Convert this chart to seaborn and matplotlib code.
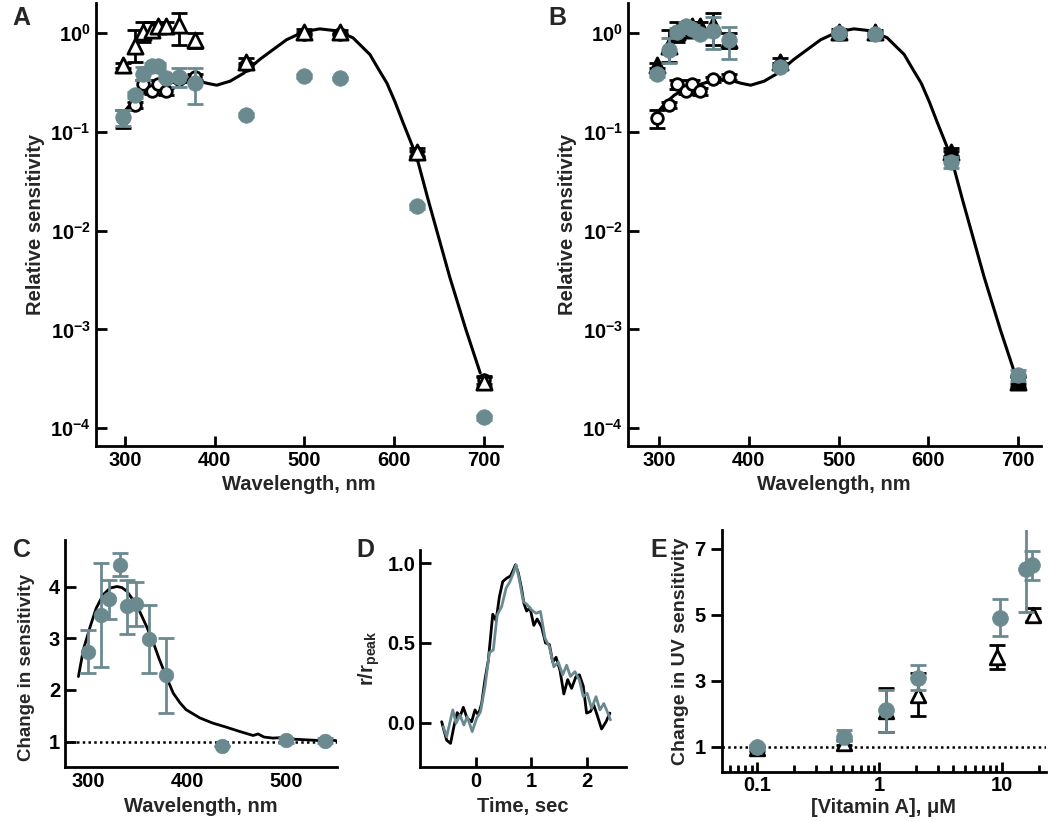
import numpy as np
import matplotlib
matplotlib.use("Agg")
import matplotlib.pyplot as plt
import matplotlib.ticker as mticker
import seaborn as sns

sns.set_theme(style="ticks")
plt.rcParams.update({
    "font.family": ["Liberation Sans", "DejaVu Sans"],
    "font.weight": "bold",
    "font.size": 14,
    "axes.labelweight": "bold",
    "axes.labelsize": 14.5,
    "axes.linewidth": 2.0,
    "axes.edgecolor": "black",
    "xtick.labelsize": 14.5,
    "ytick.labelsize": 14.5,
    "xtick.color": "black",
    "ytick.color": "black",
    "xtick.major.width": 2.0,
    "ytick.major.width": 2.0,
    "xtick.major.size": 7,
    "ytick.major.size": 8,
    "xtick.direction": "in",
    "ytick.direction": "in",
    "mathtext.fontset": "custom",
    "mathtext.rm": "Liberation Sans:bold",
    "mathtext.it": "Liberation Sans:bold",
    "mathtext.bf": "Liberation Sans:bold",
    "mathtext.sf": "Liberation Sans:bold",
})

GRAY = "#6a8a90"

# ---- panels A / B : spectral sensitivity ----
wl = [298, 311, 320, 330, 337, 346, 360, 378, 435, 500, 540, 625, 700]

# template fit (black curve)
fit_wl = [298, 307, 317, 328, 346, 365, 380, 391, 402, 417, 432, 450, 462, 480,
          499, 517, 536, 554, 573, 582, 592, 601, 610, 625, 638, 650, 662, 680, 696]
fit_sens = [0.155, 0.195, 0.234, 0.269, 0.302, 0.339, 0.331, 0.309, 0.295, 0.324,
            0.389, 0.537, 0.646, 0.851, 1.023, 1.096, 1.047, 0.891, 0.603, 0.437,
            0.309, 0.200, 0.123, 0.0562, 0.0204, 0.00832, 0.00339, 0.00100, 0.000363]

# open circles (control)
ctrl = [0.137, 0.187, 0.30, 0.26, 0.30, 0.255, 0.34, 0.356, 0.47, 0.98, 0.97, 0.060, 0.00031]
ctrl_lo = [0.109, 0.175, 0.27, 0.24, 0.27, 0.235, 0.32, 0.33, 0.45, 0.95, 0.95, 0.057, 0.00028]
ctrl_hi = [0.166, 0.200, 0.33, 0.29, 0.33, 0.275, 0.36, 0.38, 0.49, 1.01, 0.99, 0.064, 0.00034]

# triangles
tri = [0.47, 0.73, 1.03, 1.07, 1.16, 1.17, 1.20, 0.85, 0.51, 1.03, 1.03, 0.062, 0.00029]
tri_lo = [0.44, 0.51, 0.80, 0.90, 1.00, 1.00, 0.76, 0.70, 0.47, 0.98, 0.98, 0.056, 0.00026]
tri_hi = [0.50, 1.07, 1.30, 1.30, 1.30, 1.30, 1.58, 1.00, 0.55, 1.08, 1.06, 0.068, 0.00033]

# gray circles, panel A
grayA = [0.14, 0.235, 0.38, 0.46, 0.46, 0.35, 0.36, 0.31, 0.148, 0.367, 0.345, 0.0175, 0.000129]
grayA_lo = [0.115, 0.22, 0.33, 0.43, 0.43, 0.33, 0.28, 0.19, 0.14, 0.35, 0.33, 0.0165, 0.000121]
grayA_hi = [0.165, 0.25, 0.45, 0.49, 0.49, 0.37, 0.44, 0.44, 0.156, 0.385, 0.36, 0.0185, 0.000137]

# gray circles, panel B
grayB = [0.385, 0.67, 1.03, 1.18, 1.10, 0.98, 1.05, 0.84, 0.45, 1.00, 0.97, 0.049, 0.000345]
grayB_lo = [0.36, 0.49, 0.95, 1.08, 1.00, 0.90, 0.69, 0.54, 0.43, 0.97, 0.95, 0.043, 0.00030]
grayB_hi = [0.41, 0.88, 1.12, 1.28, 1.20, 1.06, 1.45, 1.15, 0.47, 1.03, 0.99, 0.056, 0.00039]

# ---- panel C ----
wlC = [300, 313, 321, 332, 339, 348, 361, 379, 435, 500, 540]
chg = [2.73, 3.44, 3.76, 4.42, 3.62, 3.67, 2.99, 2.28, 0.91, 1.03, 1.02]
chg_lo = [2.32, 2.44, 3.37, 4.20, 3.09, 3.23, 2.33, 1.55, 0.91, 0.98, 0.97]
chg_hi = [3.15, 4.46, 4.12, 4.64, 4.12, 4.08, 3.65, 3.00, 0.91, 1.08, 1.07]
chg_fit_wl = [290, 295, 302, 308, 315, 322, 329, 334, 339, 345, 352, 359, 366, 372,
              379, 386, 393, 399, 413, 426, 440, 453, 467, 472, 478, 487, 497, 507,
              517, 527, 537, 547, 551]
chg_fit = [2.26, 2.78, 3.23, 3.58, 3.84, 3.97, 4.00, 3.98, 3.91, 3.75, 3.52, 3.23,
           2.91, 2.59, 2.26, 1.94, 1.75, 1.62, 1.46, 1.36, 1.28, 1.20, 1.12, 1.15,
           1.09, 1.07, 1.08, 1.05, 1.04, 1.03, 1.02, 1.03, 1.02]

# ---- panel D : normalised responses ----
t_black = [-0.61, -0.52, -0.45, -0.39, -0.33, -0.28, -0.22, -0.15, -0.07, -0.01, 0.05,
           0.11, 0.17, 0.23, 0.31, 0.37, 0.43, 0.49, 0.56, 0.63, 0.68, 0.72, 0.77,
           0.83, 0.87, 0.92, 0.98, 1.05, 1.11, 1.19, 1.26, 1.33, 1.39, 1.45, 1.52,
           1.59, 1.66, 1.73, 1.81, 1.87, 1.94, 2.00, 2.07, 2.13, 2.19, 2.27, 2.35, 2.42]
r_black = [0.006, -0.11, -0.13, -0.025, 0.063, 0.038, 0.096, 0.027, 0.006, 0.08, 0.048,
           0.12, 0.27, 0.39, 0.68, 0.64, 0.79, 0.885, 0.906, 0.92, 0.958, 0.99, 0.94,
           0.84, 0.75, 0.70, 0.72, 0.61, 0.65, 0.60, 0.50, 0.49, 0.38, 0.41, 0.33,
           0.18, 0.27, 0.215, 0.29, 0.30, 0.23, 0.06, 0.07, 0.11, 0.048, -0.04, 0.006, 0.06]
t_gray = [-0.58, -0.52, -0.41, -0.35, -0.28, -0.21, -0.15, -0.06, 0.02, 0.09, 0.17,
          0.25, 0.32, 0.39, 0.47, 0.55, 0.62, 0.68, 0.73, 0.79, 0.86, 0.93, 1.01,
          1.09, 1.17, 1.25, 1.33, 1.41, 1.49, 1.57, 1.64, 1.71, 1.79, 1.87, 1.94,
          2.01, 2.09, 2.17, 2.24, 2.31, 2.38, 2.43]
r_gray = [-0.025, -0.088, 0.08, -0.004, 0.048, -0.015, 0.038, -0.056, 0.027, 0.069,
          0.226, 0.44, 0.456, 0.676, 0.728, 0.843, 0.885, 0.937, 0.99, 0.895, 0.76,
          0.74, 0.707, 0.686, 0.697, 0.53, 0.477, 0.35, 0.38, 0.30, 0.36, 0.29, 0.32,
          0.268, 0.163, 0.184, 0.09, 0.163, 0.08, 0.12, 0.063, 0.017]

# ---- panel E : vitamin A dose ----
vitA_g = [0.1, 0.515, 1.12, 2.08, 9.7, 15.7, 17.8]
uv_g = [1.0, 1.29, 2.12, 3.07, 4.9, 6.4, 6.5]
uv_g_lo = [0.95, 1.17, 1.45, 2.72, 4.34, 5.09, 6.05]
uv_g_hi = [1.05, 1.50, 2.72, 3.47, 5.47, 7.65, 6.92]
vitA_t = [0.1, 0.515, 1.12, 2.08, 9.2, 17.9]
uv_t = [0.95, 1.12, 2.07, 2.57, 3.72, 4.99]
uv_t_lo = [0.87, 1.05, 1.45, 1.92, 3.35, 4.82]
uv_t_hi = [1.00, 1.20, 2.79, 3.22, 4.07, 5.20]


def err(ax, x, y, lo, hi, color, z, cap=6):
    y = np.asarray(y, float)
    yerr = [y - np.asarray(lo, float), np.asarray(hi, float) - y]
    ax.errorbar(x, y, yerr=yerr, fmt="none", ecolor=color, elinewidth=2,
                capsize=cap, capthick=2, zorder=z)


def spectrum(ax, gray, gray_lo, gray_hi, tri_face, xlim):
    ax.set_yscale("log")
    sns.lineplot(x=fit_wl, y=fit_sens, color="black", lw=2.2, ax=ax, zorder=2)
    err(ax, wl, ctrl, ctrl_lo, ctrl_hi, "black", 3)
    sns.scatterplot(x=wl, y=ctrl, marker="o", s=70, color="white",
                    edgecolor="black", linewidth=2, ax=ax, zorder=4)
    err(ax, wl, tri, tri_lo, tri_hi, "black", 5)
    sns.scatterplot(x=wl, y=tri, marker="^", s=120, color=tri_face,
                    edgecolor="black", linewidth=2, ax=ax, zorder=6)
    err(ax, wl, gray, gray_lo, gray_hi, GRAY, 7)
    sns.scatterplot(x=wl, y=gray, marker="o", s=125, color=GRAY,
                    edgecolor=GRAY, linewidth=0.5, ax=ax, zorder=8)
    ax.set_xlim(*xlim)
    ax.set_ylim(6.65e-5, 2.0)
    ax.set_xticks([300, 400, 500, 600, 700])
    ax.set_yticks([1e-4, 1e-3, 1e-2, 1e-1, 1])
    ax.yaxis.set_minor_locator(mticker.NullLocator())
    ax.set_xlabel("Wavelength, nm")
    ax.set_ylabel("Relative sensitivity")
    sns.despine(ax=ax)


fig = plt.figure(figsize=(10.5, 8.21), dpi=100)
axA = fig.add_axes([0.0911, 0.4571, 0.3867, 0.5392])
axB = fig.add_axes([0.5978, 0.4571, 0.3933, 0.5392])
axC = fig.add_axes([0.0619, 0.0654, 0.2588, 0.2769])
axD = fig.add_axes([0.4000, 0.0654, 0.1962, 0.2647])
axE = fig.add_axes([0.6873, 0.0600, 0.3089, 0.2945])

spectrum(axA, grayA, grayA_lo, grayA_hi, "white", (267, 720))
spectrum(axB, grayB, grayB_lo, grayB_hi, "black", (265, 725))

# C
sns.lineplot(x=chg_fit_wl, y=chg_fit, color="black", lw=2, ax=axC, zorder=3)
axC.axhline(1, color="black", lw=1.8, ls=(0, (1, 1.3)), zorder=2)
err(axC, wlC, chg, chg_lo, chg_hi, GRAY, 4)
sns.scatterplot(x=wlC, y=chg, marker="o", s=110, color=GRAY, edgecolor=GRAY,
                linewidth=0.5, ax=axC, zorder=5)
axC.set_xlim(276.4, 551.7)
axC.set_ylim(0.505, 4.9)
axC.set_xticks([300, 400, 500])
axC.set_yticks([1, 2, 3, 4])
axC.tick_params(axis="x", length=0)
axC.set_xlabel("Wavelength, nm")
axC.set_ylabel("Change in sensitivity", fontsize=13.5)
axC.yaxis.set_label_coords(-0.112, 0.44)
sns.despine(ax=axC)

# D
sns.lineplot(x=t_black, y=r_black, color="black", lw=2, ax=axD, sort=False)
sns.lineplot(x=t_gray, y=r_gray, color=GRAY, lw=2, ax=axD, sort=False)
axD.set_xlim(-1.0, 2.71)
axD.set_ylim(-0.28, 1.083)
axD.set_xticks([0, 1, 2])
axD.set_yticks([0, 0.5, 1.0])
axD.yaxis.set_major_formatter(mticker.FormatStrFormatter("%.1f"))
axD.set_xlabel("Time, sec")
axD.set_ylabel(r"r/r$_{\mathbf{peak}}$")
sns.despine(ax=axD)

# E
axE.set_xscale("log")
axE.axhline(1, color="black", lw=1.8, ls=(0, (1, 1.3)), zorder=2)
err(axE, vitA_t, uv_t, uv_t_lo, uv_t_hi, "black", 3)
sns.scatterplot(x=vitA_t, y=uv_t, marker="^", s=110, color="white",
                edgecolor="black", linewidth=2, ax=axE, zorder=4)
err(axE, vitA_g, uv_g, uv_g_lo, uv_g_hi, GRAY, 5)
sns.scatterplot(x=vitA_g, y=uv_g, marker="o", s=130, color=GRAY, edgecolor=GRAY,
                linewidth=0.5, ax=axE, zorder=6)
axE.set_xlim(0.0512, 23)
axE.set_ylim(0.24, 7.57)
axE.set_xticks([0.1, 1, 10])
axE.set_xticklabels(["0.1", "1", "10"])
axE.xaxis.set_minor_locator(mticker.LogLocator(base=10, subs=np.arange(2, 10)))
axE.xaxis.set_minor_formatter(mticker.NullFormatter())
axE.tick_params(axis="x", which="minor", direction="in", length=5, width=2)
axE.tick_params(axis="x", which="major", pad=3)
axE.tick_params(axis="y", direction="out")
axE.set_yticks([1, 3, 5, 7])
axE.set_xlabel("[Vitamin A], μM", labelpad=2)
axE.set_ylabel("Change in UV sensitivity", fontsize=14)
sns.despine(ax=axE)

for letter, x, y in [("A", 0.012, 0.993), ("B", 0.522, 0.993), ("C", 0.012, 0.345),
                     ("D", 0.339, 0.345), ("E", 0.619, 0.345)]:
    fig.text(x, y, letter, fontsize=18, fontweight="bold", va="top", ha="left")

fig.savefig("out.png", dpi=100)
